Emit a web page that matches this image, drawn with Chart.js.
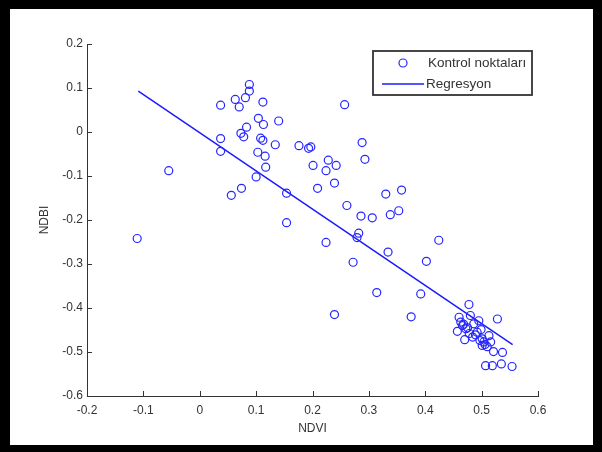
<!DOCTYPE html>
<html>
<head>
<meta charset="utf-8">
<script src="https://cdn.jsdelivr.net/npm/chart.js@4.4.1/dist/chart.umd.min.js"></script>
<style>
  html, body { margin:0; padding:0; background:#fff; }
  #frame { position:absolute; left:0; top:0; width:602px; height:452px; box-sizing:border-box;
           border-style:solid; border-color:#000; border-width:9px 9px 7px 10px; background:#fff; }
  #frame canvas { display:block; }
</style>
</head>
<body>
<div id="frame"><canvas id="ndviChart" width="583" height="436"></canvas></div>
<script>
// Kontrol noktalari (NDVI, NDBI)
var ndvi = [-0.111,-0.055,0.037,0.037,0.037,0.063,0.070,0.081,0.088,0.088,0.112,0.104,0.113,0.140,0.083,0.073,0.078,0.108,0.112,0.134,
            0.103,0.116,0.117,0.100,0.074,0.056,0.154,0.154,0.176,0.193,0.197,0.201,0.228,0.224,0.242,0.239,0.209,0.257,0.288,0.293,
            0.330,0.358,0.261,0.286,0.306,0.338,0.353,0.224,0.282,0.279,0.272,0.334,0.424,0.402,0.314,0.392,0.239,0.375,
            0.4775,0.528,0.460,0.480,0.457,0.466,0.472,0.486,0.492,0.470,0.484,0.501,0.504,0.516,0.501,0.510,0.521,0.537,
            0.507,0.519,0.535,0.554,0.463,0.495,0.478,0.513,0.468,0.475,0.489,0.497,0.506,0.499];
var ndbi = [-0.242,-0.088,0.061,-0.015,-0.044,0.074,0.057,0.078,0.108,0.093,0.068,0.031,0.017,0.025,0.011,-0.003,-0.011,-0.014,-0.019,-0.029,
            -0.046,-0.055,-0.080,-0.102,-0.128,-0.144,-0.139,-0.206,-0.031,-0.037,-0.034,-0.076,-0.064,-0.088,-0.076,-0.116,-0.128,0.062,-0.024,-0.062,
            -0.141,-0.132,-0.167,-0.191,-0.195,-0.188,-0.179,-0.251,-0.230,-0.240,-0.296,-0.273,-0.246,-0.294,-0.365,-0.368,-0.415,-0.420,
            -0.392,-0.425,-0.421,-0.417,-0.453,-0.440,-0.447,-0.436,-0.455,-0.472,-0.466,-0.470,-0.477,-0.477,-0.485,-0.488,-0.499,-0.501,
            -0.531,-0.531,-0.527,-0.533,-0.432,-0.429,-0.458,-0.463,-0.437,-0.445,-0.461,-0.474,-0.483,-0.449];
// Regresyon dogrusu uclari
var regX = [-0.109, 0.555];
var regY = [0.093, -0.483];
// eksen etiketleri
var xTicks = [-0.2,-0.1,0,0.1,0.2,0.3,0.4,0.5,0.6];
var yTicks = [-0.6,-0.5,-0.4,-0.3,-0.2,-0.1,0,0.1,0.2];

var FONT = '"Liberation Sans", Arial, sans-serif';
var TXT = '#333';

var pts = ndvi.map(function(v, i){ return {x:v, y:ndbi[i]}; });
var reg = regX.map(function(v, i){ return {x:v, y:regY[i]}; });

// ticks drawn inward like matlab
var innerTicks = {
    id:'innerTicks',
    afterDraw: function(chart){
        var c = chart.ctx, a = chart.chartArea;
        var sx = chart.scales.x, sy = chart.scales.y;
        c.save();
        c.strokeStyle = '#333';
        c.lineWidth = 1;
        c.beginPath();
        sx.ticks.forEach(function(t){
            var px = Math.round(sx.getPixelForValue(t.value)) + 0.5;
            c.moveTo(px, a.bottom); c.lineTo(px, a.bottom - 5);
        });
        sy.ticks.forEach(function(t){
            var py = Math.round(sy.getPixelForValue(t.value)) + 0.5;
            c.moveTo(a.left, py); c.lineTo(a.left + 5, py);
        });
        c.stroke();
        c.restore();
    }
};

// legend box inside the plot, top right
var boxLegend = {
    id:'boxLegend',
    afterDraw: function(chart){
        var c = chart.ctx, a = chart.chartArea;
        var ds = chart.data.datasets;
        var w = 159, h = 44;
        var x0 = a.right - 6 - w, y0 = a.top + 7;
        c.save();
        c.fillStyle = '#fff';
        c.fillRect(x0, y0, w, h);
        c.strokeStyle = '#333';
        c.lineWidth = 1.8;
        c.strokeRect(x0, y0, w, h);
        c.font = '13.5px ' + FONT;
        c.fillStyle = TXT;
        c.textBaseline = 'middle';
        // row 1: markers
        c.strokeStyle = ds[0].borderColor;
        c.lineWidth = ds[0].borderWidth;
        c.beginPath();
        c.arc(x0 + 30, y0 + 12, ds[0].pointRadius, 0, Math.PI * 2);
        c.stroke();
        c.fillText(ds[0].label, x0 + 55, y0 + 12);
        // row 2: line
        c.strokeStyle = ds[1].borderColor;
        c.lineWidth = ds[1].borderWidth;
        c.beginPath();
        c.moveTo(x0 + 9, y0 + 33); c.lineTo(x0 + 51, y0 + 33);
        c.stroke();
        c.fillText(ds[1].label, x0 + 53, y0 + 33);
        c.restore();
    }
};

new Chart(document.getElementById('ndviChart'), {
    type:'scatter',
    data:{
        datasets:[{
            label:'Kontrol noktaları',
            data:pts,
            pointStyle:'circle',
            pointRadius:4,
            pointHoverRadius:4,
            borderWidth:1.2,
            borderColor:'#2626ff',
            backgroundColor:'rgba(0,0,0,0)'
        },{
            label:'Regresyon',
            type:'line',
            data:reg,
            showLine:true,
            pointRadius:0,
            borderWidth:1.5,
            borderColor:'#1a1aff',
            fill:false
        }]
    },
    options:{
        responsive:false,
        animation:false,
        layout:{padding:{top:35, right:55, left:0, bottom:0}},
        plugins:{legend:{display:false}, tooltip:{enabled:false}},
        scales:{
            x:{
                type:'linear', min:-0.2, max:0.6,
                afterBuildTicks:function(s){ s.ticks = xTicks.map(function(v){ return {value:v}; }); },
                afterFit:function(s){ s.height = 49; },
                grid:{display:false, drawTicks:false},
                border:{display:true, color:'#333', width:1},
                ticks:{padding:7, color:TXT, font:{family:FONT, size:12}, maxRotation:0, autoSkip:false,
                       callback:function(v){ return String(Math.round(v*10)/10); }},
                title:{display:true, text:'NDVI', color:TXT, font:{family:FONT, size:12}, padding:{top:0, bottom:9}}
            },
            y:{
                type:'linear', min:-0.6, max:0.2,
                afterBuildTicks:function(s){ s.ticks = yTicks.map(function(v){ return {value:v}; }); },
                afterFit:function(s){ s.width = 77; },
                grid:{display:false, drawTicks:false},
                border:{display:true, color:'#333', width:1},
                ticks:{padding:4, color:TXT, font:{family:FONT, size:12}, autoSkip:false,
                       callback:function(v){ return String(Math.round(v*10)/10); }},
                title:{display:true, text:'NDBI', color:TXT, font:{family:FONT, size:12}, padding:{top:27, bottom:0}}
            }
        }
    },
    plugins:[innerTicks, boxLegend]
});
</script>
</body>
</html>
